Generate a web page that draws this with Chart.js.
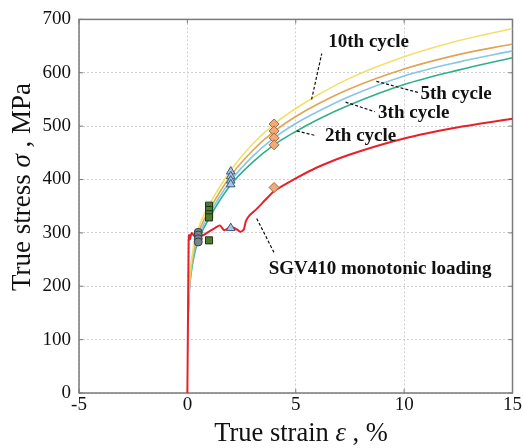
<!DOCTYPE html>
<html>
<head>
<meta charset="utf-8">
<script src="https://cdn.jsdelivr.net/npm/chart.js@4.4.1/dist/chart.umd.min.js"></script>
<style>
html,body{margin:0;padding:0;background:#fff;}
#wrap{width:523px;height:448px;position:relative;}
</style>
</head>
<body>
<div id="wrap"><canvas id="c" width="523" height="448"></canvas></div>
<script>
// ---- data ----
const xTicks = [-5, 0, 5, 10, 15];
const yTicks = [0, 100, 200, 300, 400, 500, 600, 700];

const monoX = [0, 0.03, 0.06, 0.08, 0.12, 0.2, 0.35, 0.5, 0.7, 0.9, 1.1, 1.3, 1.5, 1.7, 1.9, 2.1, 2.3, 2.45, 2.6, 2.7, 2.85, 3.2, 3.6, 4, 5, 6, 7.5, 10, 12.5, 15];
const monoY = [0, 150, 282, 296, 288, 300, 293, 298, 295, 300, 305, 310, 314, 305, 309, 310, 306, 302, 306, 322, 332, 345, 362, 378, 402, 423, 447, 477, 498, 514];

const cycX = [0.02, 0.1, 0.3, 0.5, 1, 2, 3, 4, 5, 6, 7.5, 10, 12.5, 15];
const cyc2Y  = [130, 195, 255, 285, 327, 390, 432, 465, 490, 512, 540, 578, 605, 628];
const cyc3Y  = [135, 200, 262, 292, 334, 398, 443, 478, 505, 527, 556, 594, 620, 641];
const cyc5Y  = [140, 205, 270, 300, 342, 407, 454, 490, 518, 541, 570, 607, 634, 654];
const cyc10Y = [145, 210, 278, 308, 352, 417, 466, 504, 533, 558, 590, 630, 660, 683];

const circX = [0.5, 0.5, 0.5, 0.5];
const circY = [301, 296, 289, 283];
const sqX = [1, 1, 1, 1, 1];
const sqY = [351, 343, 335, 329, 286];
const triX = [2, 2, 2, 2, 2];
const triY = [415, 406, 398, 391, 309];
const diaX = [4, 4, 4, 4, 4];
const diaY = [504, 491, 478, 465, 385];

const labels = [
  {text: '10th cycle', x: 6.5, y: 658, lx1: 5.73, ly1: 550, lx2: 6.2, ly2: 636},
  {text: '5th cycle', x: 10.75, y: 560, lx1: 8.72, ly1: 584, lx2: 10.65, ly2: 563},
  {text: '3th cycle', x: 8.8, y: 525, lx1: 7.3, ly1: 545, lx2: 8.65, ly2: 527},
  {text: '2th cycle', x: 6.35, y: 482, lx1: 5.05, ly1: 491, lx2: 5.95, ly2: 482},
  {text: 'SGV410 monotonic loading', x: 3.75, y: 232, lx1: 3.2, ly1: 327, lx2: 4.0, ly2: 263}
];

const pts = (xs, ys) => xs.map((x, i) => ({x: x, y: ys[i]}));

const serif = '"Liberation Serif", "Times New Roman", serif';

const frame = {
  id: 'frame',
  beforeDatasetsDraw(chart) {
    const {ctx, chartArea: a} = chart;
    ctx.save();
    ctx.strokeStyle = '#7a7a7a';
    ctx.lineWidth = 1.5;
    ctx.strokeRect(a.left, a.top, a.right - a.left, a.bottom - a.top);
    const xs = chart.scales.x, ys = chart.scales.y;
    ctx.lineWidth = 1;
    yTicks.forEach(v => {
      const py = ys.getPixelForValue(v);
      ctx.beginPath();
      ctx.moveTo(a.left, py); ctx.lineTo(a.left + 4, py);
      ctx.moveTo(a.right, py); ctx.lineTo(a.right - 4, py);
      ctx.stroke();
    });
    xTicks.forEach(v => {
      const px = xs.getPixelForValue(v);
      ctx.beginPath();
      ctx.moveTo(px, a.bottom); ctx.lineTo(px, a.bottom - 4);
      ctx.moveTo(px, a.top); ctx.lineTo(px, a.top + 4);
      ctx.stroke();
    });
    ctx.restore();
  },
  afterDraw(chart) {
    const {ctx} = chart;
    const xs = chart.scales.x, ys = chart.scales.y;
    ctx.save();
    labels.forEach(l => {
      ctx.strokeStyle = '#111';
      ctx.lineWidth = 1.2;
      ctx.setLineDash([3, 2]);
      ctx.beginPath();
      ctx.moveTo(xs.getPixelForValue(l.lx1), ys.getPixelForValue(l.ly1));
      ctx.lineTo(xs.getPixelForValue(l.lx2), ys.getPixelForValue(l.ly2));
      ctx.stroke();
      ctx.setLineDash([]);
      ctx.fillStyle = '#111';
      ctx.font = 'bold 19px ' + serif;
      ctx.textAlign = 'left';
      ctx.textBaseline = 'middle';
      ctx.fillText(l.text, xs.getPixelForValue(l.x), ys.getPixelForValue(l.y));
    });
    const drawParts = (parts, cx, cy, size) => {
      let total = 0;
      parts.forEach(p => { ctx.font = p[1] + ' ' + size + 'px ' + serif; p.w = ctx.measureText(p[0]).width; total += p.w; });
      let x = cx - total / 2;
      ctx.textAlign = 'left';
      ctx.textBaseline = 'middle';
      ctx.fillStyle = '#111';
      parts.forEach(p => { ctx.font = p[1] + ' ' + size + 'px ' + serif; ctx.fillText(p[0], x, cy); x += p.w; });
    };
    drawParts([['True strain ', 'normal'], ['ε', 'italic'], [' , %', 'normal']], 301, 434, 26.5);
    ctx.translate(23, 187);
    ctx.rotate(-Math.PI / 2);
    drawParts([['True stress ', 'normal'], ['σ', 'italic'], [' , MPa', 'normal']], 0, 0, 27);
    ctx.restore();
  }
};

const lineDs = (label, data, color, width, order) => ({
  type: 'line', label, data, borderColor: color, backgroundColor: color,
  borderWidth: width, pointRadius: 0, fill: false, order,
  cubicInterpolationMode: 'monotone'
});
const markDs = (label, data, style, fill, stroke, r) => ({
  type: 'scatter', label, data, pointStyle: style, pointRadius: r,
  pointBackgroundColor: fill, pointBorderColor: stroke, pointBorderWidth: 1, order: 0
});

const monoDs = lineDs('SGV410 monotonic loading', pts(monoX, monoY), '#e8202a', 2, 1);
monoDs.cubicInterpolationMode = 'default';
monoDs.tension = 0.2;

new Chart(document.getElementById('c'), {
  type: 'line',
  data: {
    datasets: [
      markDs('circles', pts(circX, circY), 'circle', '#7c8490', '#3a3f46', 4),
      markDs('squares', pts(sqX, sqY), 'rect', '#4f7a35', '#1f3312', 5),
      markDs('triangles', pts(triX, triY), 'triangle', '#a9c6e6', '#3d5a7a', 5),
      markDs('diamonds', pts(diaX, diaY), 'rectRot', '#f2a97a', '#a8653a', 5),
      monoDs,
      lineDs('2th cycle', pts(cycX, cyc2Y), '#2fb08a', 1.6, 5),
      lineDs('3th cycle', pts(cycX, cyc3Y), '#86c6ea', 1.6, 4),
      lineDs('5th cycle', pts(cycX, cyc5Y), '#e0a452', 1.6, 3),
      lineDs('10th cycle', pts(cycX, cyc10Y), '#f2e06a', 1.6, 2)
    ]
  },
  options: {
    responsive: false,
    animation: false,
    events: [],
    layout: {padding: {top: 14, right: 8, left: 0, bottom: 0}},
    plugins: {legend: {display: false}, tooltip: {enabled: false}},
    scales: {
      x: {
        type: 'linear', min: -5, max: 15,
        afterBuildTicks: s => { s.ticks = xTicks.map(v => ({value: v})); },
        afterFit: s => { s.height = 55; },
        border: {display: false, dash: [2, 2]},
        grid: {color: '#cfcfcf', lineWidth: 1, drawTicks: false},
        ticks: {color: '#111', font: {family: serif, size: 19}, padding: 1, maxRotation: 0}
      },
      y: {
        type: 'linear', min: 0, max: 700,
        afterBuildTicks: s => { s.ticks = yTicks.map(v => ({value: v})); },
        afterFit: s => { s.width = 79; },
        border: {display: false, dash: [2, 2]},
        grid: {color: '#cfcfcf', lineWidth: 1, drawTicks: false},
        ticks: {color: '#111', font: {family: serif, size: 19}, padding: 8}
      }
    }
  },
  plugins: [frame]
});
</script>
</body>
</html>
